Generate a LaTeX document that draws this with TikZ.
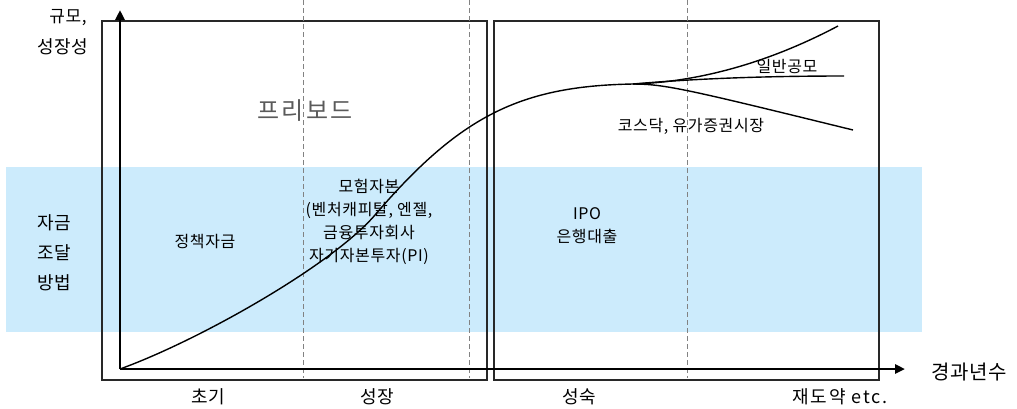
\documentclass[tikz,border=0pt]{standalone}
\usepackage{fontspec}
\setmainfont{Noto Sans CJK KR}[LetterSpace=4]
\newfontfamily\widefont{Noto Sans CJK KR}[LetterSpace=10]
\usetikzlibrary{arrows.meta}
\definecolor{bandblue}{RGB}{204,235,252}
\definecolor{boxgray}{RGB}{40,40,40}
\definecolor{dashgray}{RGB}{130,130,130}
\definecolor{pbgray}{RGB}{90,90,90}
\tikzset{
  stagebox/.style={draw=boxgray, line width=1.4pt},
  guide/.style={draw=dashgray, dashed, line width=0.8pt, dash pattern=on 5pt off 3pt},
  axisline/.style={draw=black, line width=2.6pt, -{Triangle[length=10pt,width=9pt]}},
  growth/.style={draw=black, line width=1.4pt},
  lbl/.style={inner sep=0pt, font=\fontsize{16}{23}\selectfont, align=center},
  biglbl/.style={inner sep=0pt, font=\fontsize{18}{30}\selectfont, align=center},
}
\begin{document}
\begin{tikzpicture}[x=1pt,y=-1pt]
\useasboundingbox (0,0) rectangle (1017,408);
% band
\fill[bandblue] (6,167) rectangle (922,332);
% stage boxes
\draw[stagebox] (102,21) rectangle (487,380);
\draw[stagebox] (494,21) rectangle (879,380);
% dashed guides
\draw[guide] (303,0) -- (303,378);
\draw[guide] (469,0) -- (469,378);
\draw[guide] (687,0) -- (687,378);
% axes
\coordinate (O) at (120,369);
\coordinate (ytip) at (120,10);
\coordinate (xtip) at (905,369);
\draw[axisline] (O) -- (ytip);
\draw[axisline] (O) -- (xtip);
% growth curve
\coordinate (mid) at (375,215);
\coordinate (split) at (633,84);
\coordinate (hiEnd) at (838,26);
\coordinate (flatEnd) at (844,76);
\coordinate (lowEnd) at (853,130);
\draw[growth] (O) .. controls (200,340) and (332,265) .. (mid)
  .. controls (460,116) and (520,86) .. (split);
\draw[growth] (split) .. controls (700,82) and (770,62) .. (hiEnd);
\draw[growth] (split) .. controls (690,79) and (760,76) .. (flatEnd);
\draw[growth] (split) .. controls (665,84) and (690,90) .. (lowEnd);
% labels
\node[lbl, font=\fontsize{17}{30}\selectfont] (yl1) at (68,18) {규모,};
\node[lbl, font=\fontsize{18}{30}\selectfont] (yl2) at (63,47) {성장성};
\node[lbl, font=\fontsize{24}{28}\selectfont\widefont, text=pbgray] (fb) at (305,111) {프리보드};
\node[lbl] (ipo1) at (787,66) {일반공모};
\node[lbl] (kos) at (691,126) {코스닥, 유가증권시장};
\node[biglbl] (fund) at (54,253) {자금\\조달\\방법};
\node[lbl] (policy) at (205,242) {정책자금};
\node[lbl] (venture) at (369,222) {모험자본\\(벤처캐피탈, 엔젤,\\금융투자회사\\자기자본투자(PI)};
\node[lbl] (ipo) at (587,226) {IPO\\은행대출};
\node[lbl, font=\fontsize{20}{22}\selectfont] (xl) at (969,372) {경과년수};
\node[biglbl] (s1) at (208,397) {초기};
\node[biglbl] (s2) at (377,397) {성장};
\node[biglbl] (s3) at (579,397) {성숙};
\node[biglbl, font=\fontsize{18}{30}\selectfont\widefont] (s4) at (840,397) {재도약 etc.};
\end{tikzpicture}
\end{document}
